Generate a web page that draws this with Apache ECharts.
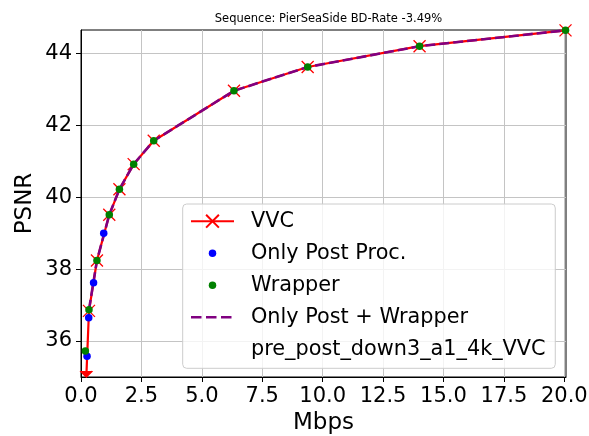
<!DOCTYPE html>
<html><head><meta charset="utf-8">
<script src="https://cdn.jsdelivr.net/npm/echarts@6/dist/echarts.min.js"></script>
<style>html,body{margin:0;padding:0;background:#fff}#c{width:589px;height:436px}</style>
</head><body><div id="c"></div>
<script>
const titleText = 'Sequence: PierSeaSide BD-Rate -3.49%';
const xTicks = [0, 2.5, 5, 7.5, 10, 12.5, 15, 17.5, 20];
const yTicks = [36, 38, 40, 42, 44];
const seriesNames = ['VVC', 'Only Post Proc.', 'Wrapper', 'Only Post + Wrapper', 'pre_post_down3_a1_4k_VVC'];

const vvcMbps = [0.22, 0.33, 0.66, 1.17, 1.59, 2.18, 3.01, 6.33, 9.38, 14.01, 20.05];
const vvcPsnr = [35.0, 36.84, 38.24, 39.51, 40.22, 40.92, 41.57, 42.96, 43.62, 44.20, 44.64];

const postMbps = [0.25, 0.32, 0.52, 0.94];
const postPsnr = [35.58, 36.65, 37.62, 39.00];

const wrapMbps = [0.18, 0.33, 0.66, 1.17, 1.59, 2.18, 3.01, 6.33, 9.38, 14.01, 20.05];
const wrapPsnr = [35.72, 36.87, 38.24, 39.51, 40.22, 40.92, 41.57, 42.96, 43.62, 44.20, 44.64];

const bothMbps = [0.33, 0.66, 1.17, 1.59, 2.18, 3.01, 6.33, 9.38, 14.01, 20.05];
const bothPsnr = [36.87, 38.24, 39.51, 40.22, 40.92, 41.57, 42.96, 43.62, 44.20, 44.64];

const Y_MIN = 35.0, Y_MAX = 44.65, X_MIN = 0, X_MAX = 20.07;

const zip = (a, b) => a.map((v, i) => [v, b[i]]);
const FONT = 'DejaVu Sans';

// marker that sits on the lower axis edge is drawn half (clipped like the original)
const xMarker = 'path://M0,0L10,10M10,0L0,10';
const halfXMarker = 'path://M0,0L5,5L10,0';
const vvcData = zip(vvcMbps, vvcPsnr).map(p => p[1] <= Y_MIN
  ? {value: p, symbol: halfXMarker, symbolSize: [12, 6], symbolOffset: [0, -3]}
  : p);

const circleIcon = 'path://M0,0M43,16M25.25,8A3.75,3.75,0,1,1,17.75,8A3.75,3.75,0,1,1,25.25,8Z';
const dashIcon = 'path://M0,0M43,16M0,6.7h10.5v2.6h-10.5zM15,6.7h10.5v2.6h-10.5zM30,6.7h10.5v2.6h-10.5z';
const blankIcon = 'path://M0,0M43,16';

const chart = echarts.init(document.getElementById('c'), null, {renderer: 'canvas'});
chart.setOption({
  animation: false,
  textStyle: {fontFamily: FONT},
  title: {
    text: titleText, left: 323.5, top: 8, textAlign: 'center',
    textStyle: {fontSize: 11.5, fontWeight: 'normal', color: '#000', fontFamily: FONT}
  },
  grid: {left: 81, right: 23, top: 30, bottom: 59, show: true, borderColor: '#000', borderWidth: 1,
         containLabel: false, outerBoundsMode: 'none'},
  xAxis: {
    type: 'value', min: X_MIN, max: X_MAX,
    name: 'Mbps', nameLocation: 'middle', nameGap: 32,
    nameTextStyle: {fontSize: 23, color: '#000', fontFamily: FONT},
    axisLine: {show: true, onZero: false, lineStyle: {color: '#000', width: 1}},
    axisTick: {show: true, length: 5, customValues: xTicks, lineStyle: {color: '#000', width: 1}},
    axisLabel: {customValues: xTicks, formatter: v => Number(v).toFixed(1), fontSize: 21, color: '#000', margin: 9, fontFamily: FONT},
    splitLine: {show: true, lineStyle: {color: '#c4c4c4', width: 1}}
  },
  yAxis: {
    type: 'value', min: Y_MIN, max: Y_MAX,
    name: 'PSNR', nameLocation: 'middle', nameGap: 44, nameMoveOverlap: false,
    nameTextStyle: {fontSize: 23, color: '#000', fontFamily: FONT},
    axisLine: {show: true, onZero: false, lineStyle: {color: '#000', width: 1}},
    axisTick: {show: true, length: 5, customValues: yTicks, lineStyle: {color: '#000', width: 1}},
    axisLabel: {customValues: yTicks, formatter: v => String(Math.round(v)), fontSize: 21, color: '#000', margin: 9, fontFamily: FONT},
    splitLine: {show: true, lineStyle: {color: '#c4c4c4', width: 1}}
  },
  legend: {
    orient: 'vertical', left: 182.7, top: 204,
    padding: [6.7, 9.7, 8.6, 7.3],
    itemWidth: 43, itemHeight: 16, itemGap: 11,
    backgroundColor: 'rgba(255,255,255,0.8)', borderColor: '#cccccc', borderWidth: 1, borderRadius: 4,
    selectedMode: false,
    textStyle: {fontSize: 20.8, color: '#000', fontFamily: FONT, lineHeight: 20, padding: [0, 0, 0, 12]},
    data: [
      {name: seriesNames[0]},
      {name: seriesNames[1], icon: circleIcon},
      {name: seriesNames[2], icon: circleIcon},
      {name: seriesNames[3], icon: dashIcon},
      {name: seriesNames[4], icon: blankIcon}
    ]
  },
  series: [
    {
      name: seriesNames[0], type: 'line', data: vvcData, z: 2, clip: true,
      color: '#ff0000',
      lineStyle: {color: '#ff0000', width: 2.2},
      symbol: xMarker, symbolSize: 12, showSymbol: true,
      itemStyle: {color: '#ff0000', borderColor: '#ff0000', borderWidth: 1.3, opacity: 1}
    },
    {
      name: seriesNames[3], type: 'line', data: zip(bothMbps, bothPsnr), z: 3, clip: true,
      color: '#800080', symbol: 'none',
      lineStyle: {color: '#800080', width: 2.6, type: [10, 4]},
      itemStyle: {color: '#800080', opacity: 1}
    },
    {
      name: seriesNames[1], type: 'scatter', data: zip(postMbps, postPsnr), z: 4,
      symbol: 'circle', symbolSize: 7.5, itemStyle: {color: '#0000ff', opacity: 1}
    },
    {
      name: seriesNames[2], type: 'scatter', data: zip(wrapMbps, wrapPsnr), z: 5,
      symbol: 'circle', symbolSize: 7.5, itemStyle: {color: '#008000', opacity: 1}
    },
    {
      name: seriesNames[4], type: 'line', data: [], symbol: 'none',
      color: 'rgba(0,0,0,0)', lineStyle: {color: 'rgba(0,0,0,0)'}, itemStyle: {color: 'rgba(0,0,0,0)'}
    }
  ]
});
</script>
</body></html>
